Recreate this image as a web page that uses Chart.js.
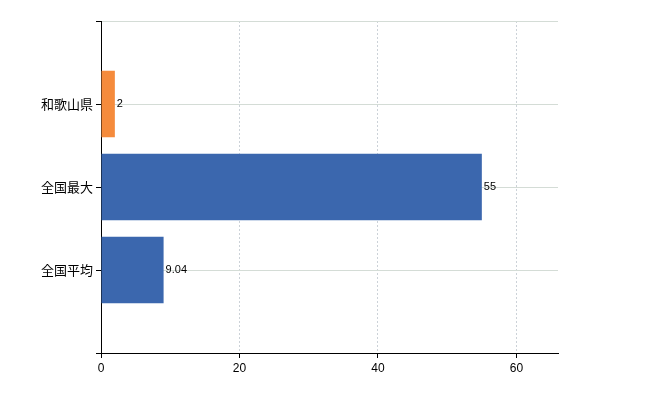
<!DOCTYPE html>
<html>
<head>
<meta charset="utf-8">
<script src="https://cdn.jsdelivr.net/npm/chart.js@4"></script>
<style>body{margin:0}#wrap{width:650px;height:400px}</style>
</head>
<body>
<div id="wrap"><canvas id="barChart"></canvas></div>
<script>
const categories = ['和歌山県', '全国最大', '全国平均'];
const values = [2, 55, 9.04];
const barColors = ['#f58b3c', '#3b67ae', '#3b67ae'];
const xTicks = [0, 20, 40, 60];

// pad with empty slots so the axis ends sit half a band beyond the bars
const paddedLabels = [''].concat(categories, ['']);
const paddedValues = [null].concat(values, [null]);
const paddedColors = ['#000'].concat(barColors, ['#000']);

const valueLabels = {
    id: 'valueLabels',
    afterDatasetsDraw(chart) {
        const ctx = chart.ctx;
        const meta = chart.getDatasetMeta(0);
        ctx.save();
        ctx.font = '11px "Liberation Sans", Arial, sans-serif';
        ctx.fillStyle = '#000';
        ctx.textBaseline = 'middle';
        meta.data.forEach((bar, i) => {
            if (paddedValues[i] === null) return;
            ctx.fillText(String(paddedValues[i]), bar.x + 2, bar.y);
        });
        ctx.restore();
    }
};

const ctx = document.getElementById('barChart').getContext('2d');
new Chart(ctx, {
    type: 'bar',
    data: {
        labels: paddedLabels,
        datasets: [{
            data: paddedValues,
            backgroundColor: paddedColors,
            barPercentage: 0.8,
            categoryPercentage: 1
        }]
    },
    plugins: [valueLabels],
    options: {
        indexAxis: 'y',
        responsive: true,
        maintainAspectRatio: false,
        animation: false,
        layout: { padding: { top: 21, right: 92, left: 0, bottom: 0 } },
        plugins: { legend: { display: false }, tooltip: { enabled: false } },
        scales: {
            x: {
                min: 0,
                max: 66,
                afterBuildTicks(axis) { axis.ticks = xTicks.map(v => ({ value: v })); },
                afterFit(axis) { axis.height = 47; },
                grid: { color: '#ccd2d8', tickColor: '#000', tickLength: 5 },
                border: { color: '#000', dash: [2, 2] },
                ticks: { color: '#000', font: { size: 12, family: 'Liberation Sans' } }
            },
            y: {
                offset: false,
                afterFit(axis) { axis.width = 101; },
                grid: { color: '#d4dcd6', tickColor: '#000', tickLength: 5, offset: false },
                border: { color: '#000' },
                ticks: { color: '#000', font: { size: 13, family: 'Noto Sans CJK JP' } }
            }
        }
    }
});
</script>
</body>
</html>
